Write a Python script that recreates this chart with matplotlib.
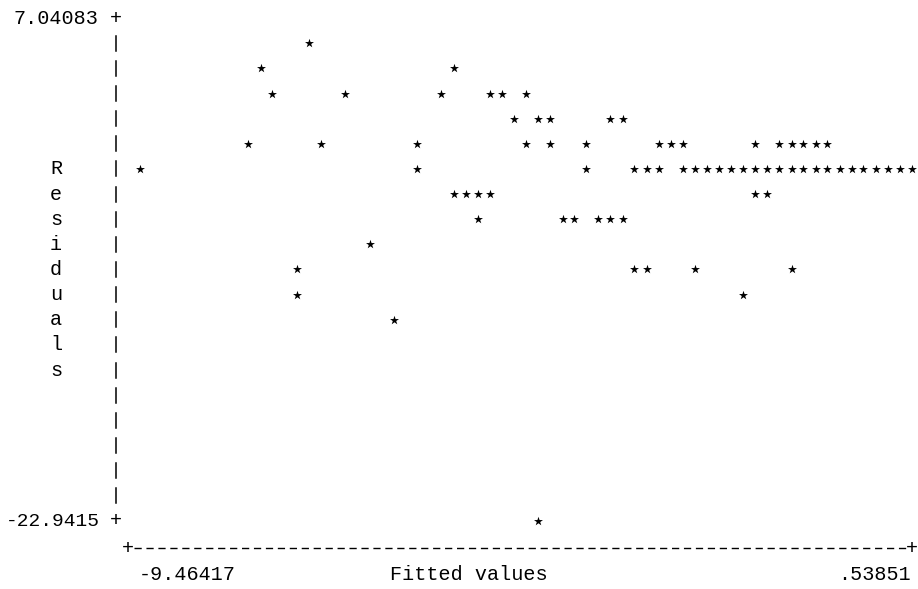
import matplotlib
matplotlib.use("Agg")
import matplotlib.pyplot as plt

# residual-vs-fitted values, grouped by plot row
fitted = [
    -7.28,
    -7.90, -5.40,
    -7.75, -6.81, -5.56, -4.93, -4.78, -4.46,
    -4.62, -4.31, -4.15, -3.37, -3.21,
    -8.06, -7.12, -5.87, -4.46, -4.15, -3.68, -2.74, -2.59, -2.43,
    -1.49, -1.18, -1.02, -0.87, -0.71, -0.56,
    -9.464, -5.87, -3.68, -3.06, -2.90, -2.74,
    -2.43, -2.27, -2.12, -1.96, -1.81, -1.65, -1.49, -1.34, -1.18, -1.02,
    -0.87, -0.71, -0.56, -0.40, -0.24, -0.09, 0.07, 0.23, 0.38, 0.5385,
    -5.40, -5.24, -5.09, -4.93, -1.49, -1.34,
    -5.09, -3.99, -3.84, -3.53, -3.37, -3.21,
    -6.49,
    -7.43, -3.06, -2.90, -2.27, -1.02,
    -7.43, -1.65,
    -6.18,
    -4.31,
]
residuals = [
    5.54,
    4.04, 4.04,
    2.54, 2.54, 2.54, 2.54, 2.54, 2.54,
    1.04, 1.04, 1.04, 1.04, 1.04,
    -0.45, -0.45, -0.45, -0.45, -0.45, -0.45, -0.45, -0.45, -0.45,
    -0.45, -0.45, -0.45, -0.45, -0.45, -0.45,
    -1.95, -1.95, -1.95, -1.95, -1.95, -1.95,
    -1.95, -1.95, -1.95, -1.95, -1.95, -1.95, -1.95, -1.95, -1.95, -1.95,
    -1.95, -1.95, -1.95, -1.95, -1.95, -1.95, -1.95, -1.95, -1.95, -1.95,
    -3.45, -3.45, -3.45, -3.45, -3.45, -3.45,
    -4.95, -4.95, -4.95, -4.95, -4.95, -4.95,
    -6.45,
    -7.95, -7.95, -7.95, -7.95, -7.95,
    -9.45, -9.45,
    -10.95,
    -22.9415,
]

x_min, x_max = -9.46417, 0.53851
y_min, y_max = -22.9415, 7.04083
y_title = "Residuals"
x_title = "Fitted values"

W, H = 918, 589
mono = ["Liberation Mono", "DejaVu Sans Mono"]
fs = 14.5

fig = plt.figure(figsize=(W / 100, H / 100), dpi=100)

# background axes in pixel units for the character frame
bg = fig.add_axes([0, 0, 1, 1])
bg.set_xlim(0, W); bg.set_ylim(H, 0); bg.axis("off")

axis_x = 116
row0, row_h = 18, 25.15
col_w = 12.06

# y axis: "+" at ends, bars in between
bg.text(98, row0, "%g" % y_max, ha="right", va="center", fontsize=fs, family=mono)
bg.text(axis_x, row0, "+", ha="center", va="center", fontsize=fs, family=mono)
bg.text(100, row0 + 20 * row_h, "%.6g" % y_min, ha="right", va="center",
        fontsize=14, family=mono)
bg.text(axis_x, row0 + 20 * row_h, "+", ha="center", va="center", fontsize=fs, family=mono)
for r in range(1, 20):
    yc = row0 + r * row_h
    bg.plot([axis_x, axis_x], [yc - 7.5, yc + 7.5], color="black", lw=1.1)

for i, ch in enumerate(y_title):
    bg.text(56, row0 + (6 + i) * row_h, ch, ha="center", va="center",
            fontsize=fs, family=mono)

# x axis: dashed line with "+" ends
x_line = 548
bg.text(axis_x + col_w, x_line, "+", ha="center", va="center", fontsize=fs, family=mono)
bg.text(axis_x + 66 * col_w, x_line, "+", ha="center", va="center", fontsize=fs, family=mono)
bg.plot([axis_x + col_w + 6, axis_x + 66 * col_w - 6], [x_line, x_line],
        color="black", lw=1.0, dashes=(5.2, 3.4))

bg.text(139, 575, "%g" % x_min, ha="left", va="center", fontsize=fs, family=mono)
bg.text(911, 575, ".53851", ha="right", va="center", fontsize=fs, family=mono)
bg.text(390, 575, x_title, ha="left", va="center", fontsize=fs, family=mono)

# data axes placed over the grid
left = (axis_x + 2 * col_w) / W
right = (axis_x + 66 * col_w) / W
top = (H - row0) / H
bottom = (H - (row0 + 20 * row_h)) / H
ax = fig.add_axes([left, bottom, right - left, top - bottom])
ax.set_xlim(x_min, x_max)
ax.set_ylim(y_min, y_max)
ax.axis("off")
ax.patch.set_alpha(0)
ax.scatter(fitted, residuals, marker="*", s=46, color="black", linewidths=0, clip_on=False)

fig.savefig("out.png", dpi=100, facecolor="white")
